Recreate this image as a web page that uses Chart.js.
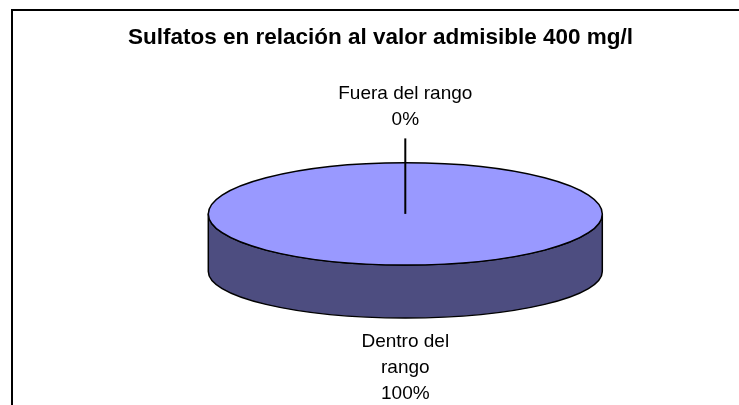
<!DOCTYPE html>
<html>
<head>
<meta charset="utf-8">
<script src="https://cdn.jsdelivr.net/npm/chart.js@4/dist/chart.umd.min.js"></script>
<style>
  html, body { margin: 0; padding: 0; background: #fff; overflow: hidden; }
  canvas { display: block; }
</style>
</head>
<body>
<canvas id="c" width="739" height="405"></canvas>
<script>
const chartTitle = 'Sulfatos en relación al valor admisible 400 mg/l';
const categories = ['Dentro del rango', 'Fuera del rango'];
const percentValues = [100, 0];
const topColors = ['#9999FF', '#993366'];
const sideColors = ['#4D4D80', '#4D1A33'];

const FONT = "'Liberation Sans', Arial, Helvetica, sans-serif";

// Tilted disc: top face ellipse and the (slightly flatter) base ellipse
const disc = { cx: 405.3, cy: 213.9, rx: 197, ry: 51.2, baseCy: 271.5, baseRy: 46.5 };

// Outer frame of the chart
const framePlugin = {
  id: 'frame',
  beforeDraw(chart) {
    const ctx = chart.ctx;
    ctx.save();
    ctx.fillStyle = '#fff';
    ctx.fillRect(0, 0, chart.width, chart.height);
    ctx.strokeStyle = '#000';
    ctx.lineWidth = 2;
    ctx.strokeRect(12, 10, 900, 900);
    ctx.restore();
  }
};

// Front-facing part of [s, e] (canvas angles, y down) that lies in [0, PI]
function frontParts(s, e) {
  const parts = [];
  for (const k of [-2, 0, 2]) {
    const a = Math.max(s + k * Math.PI, 0);
    const b = Math.min(e + k * Math.PI, Math.PI);
    if (b - a > 1e-6) parts.push([a, b]);
  }
  return parts;
}

// Draws the wall of the disc, then squashes the library's arcs into the top face
const discPlugin = {
  id: 'disc3d',
  beforeDatasetsDraw(chart) {
    const ctx = chart.ctx;
    const arcs = chart.getDatasetMeta(0).data;
    ctx.save();
    ctx.lineWidth = 1.5;
    ctx.strokeStyle = '#000';
    ctx.lineJoin = 'round';
    arcs.forEach((el, i) => {
      if (el.endAngle - el.startAngle < 1e-6) return;
      frontParts(el.startAngle, el.endAngle).forEach(([a, b]) => {
        ctx.beginPath();
        ctx.ellipse(disc.cx, disc.baseCy, disc.rx, disc.baseRy, 0, a, b, false);
        ctx.ellipse(disc.cx, disc.cy, disc.rx, disc.ry, 0, b, a, true);
        ctx.closePath();
        ctx.fillStyle = sideColors[i];
        ctx.fill();
        ctx.stroke();
      });
    });
    ctx.restore();

    const ref = arcs[0];
    const R = ref.outerRadius;
    ctx.save();
    ctx.translate(disc.cx, disc.cy);
    ctx.scale(disc.rx / R, disc.ry / R);
    ctx.translate(-ref.x, -ref.y);
  },
  afterDatasetsDraw(chart) {
    const ctx = chart.ctx;
    ctx.restore();
    ctx.save();
    ctx.lineWidth = 1.5;
    ctx.strokeStyle = '#000';
    ctx.beginPath();
    ctx.ellipse(disc.cx, disc.cy, disc.rx, disc.ry, 0, 0, Math.PI * 2);
    ctx.stroke();
    ctx.restore();
  }
};

function wrapText(ctx, text, maxWidth) {
  const words = text.split(' ');
  const lines = [];
  let line = '';
  words.forEach(w => {
    const test = line ? line + ' ' + w : w;
    if (line && ctx.measureText(test).width > maxWidth) {
      lines.push(line);
      line = w;
    } else {
      line = test;
    }
  });
  if (line) lines.push(line);
  return lines;
}

// Category + percentage labels placed above or below the disc
const labelPlugin = {
  id: 'sliceLabels',
  afterDraw(chart) {
    const ctx = chart.ctx;
    const arcs = chart.getDatasetMeta(0).data;
    const lineGap = 25.8;
    ctx.save();
    ctx.font = '19px ' + FONT;
    ctx.fillStyle = '#000';
    ctx.textAlign = 'center';
    ctx.textBaseline = 'alphabetic';
    arcs.forEach((el, i) => {
      const mid = (el.startAngle + el.endAngle) / 2;
      const below = Math.sin(mid) > 0;
      const x = disc.cx + disc.rx * Math.cos(mid) * 0;
      const lines = wrapText(ctx, categories[i], below ? 130 : 170);
      lines.push(percentValues[i] + '%');
      if (below) {
        const first = disc.baseCy + disc.baseRy + 29.3;
        lines.forEach((t, k) => ctx.fillText(t, x, first + k * lineGap));
      } else {
        const last = disc.cy - disc.ry - 37.6;
        const first = last - (lines.length - 1) * lineGap;
        lines.forEach((t, k) => ctx.fillText(t, x, first + k * lineGap));
        ctx.beginPath();
        ctx.lineWidth = 2;
        ctx.strokeStyle = '#000';
        ctx.moveTo(x, last + 13.3);
        ctx.lineTo(x, disc.cy);
        ctx.stroke();
      }
    });
    ctx.restore();
  }
};

new Chart(document.getElementById('c'), {
  type: 'pie',
  data: {
    labels: categories,
    datasets: [{
      data: percentValues,
      backgroundColor: topColors,
      borderWidth: 0
    }]
  },
  options: {
    responsive: false,
    animation: false,
    devicePixelRatio: 1,
    events: [],
    layout: { padding: { left: 22, right: 0, top: 0, bottom: 0 } },
    plugins: {
      legend: { display: false },
      tooltip: { enabled: false },
      title: {
        display: true,
        text: chartTitle,
        color: '#000',
        font: { family: FONT, size: 22.5, weight: 'bold', lineHeight: 1.2 },
        padding: { top: 24, bottom: 10 }
      }
    }
  },
  plugins: [framePlugin, discPlugin, labelPlugin]
});
</script>
</body>
</html>
